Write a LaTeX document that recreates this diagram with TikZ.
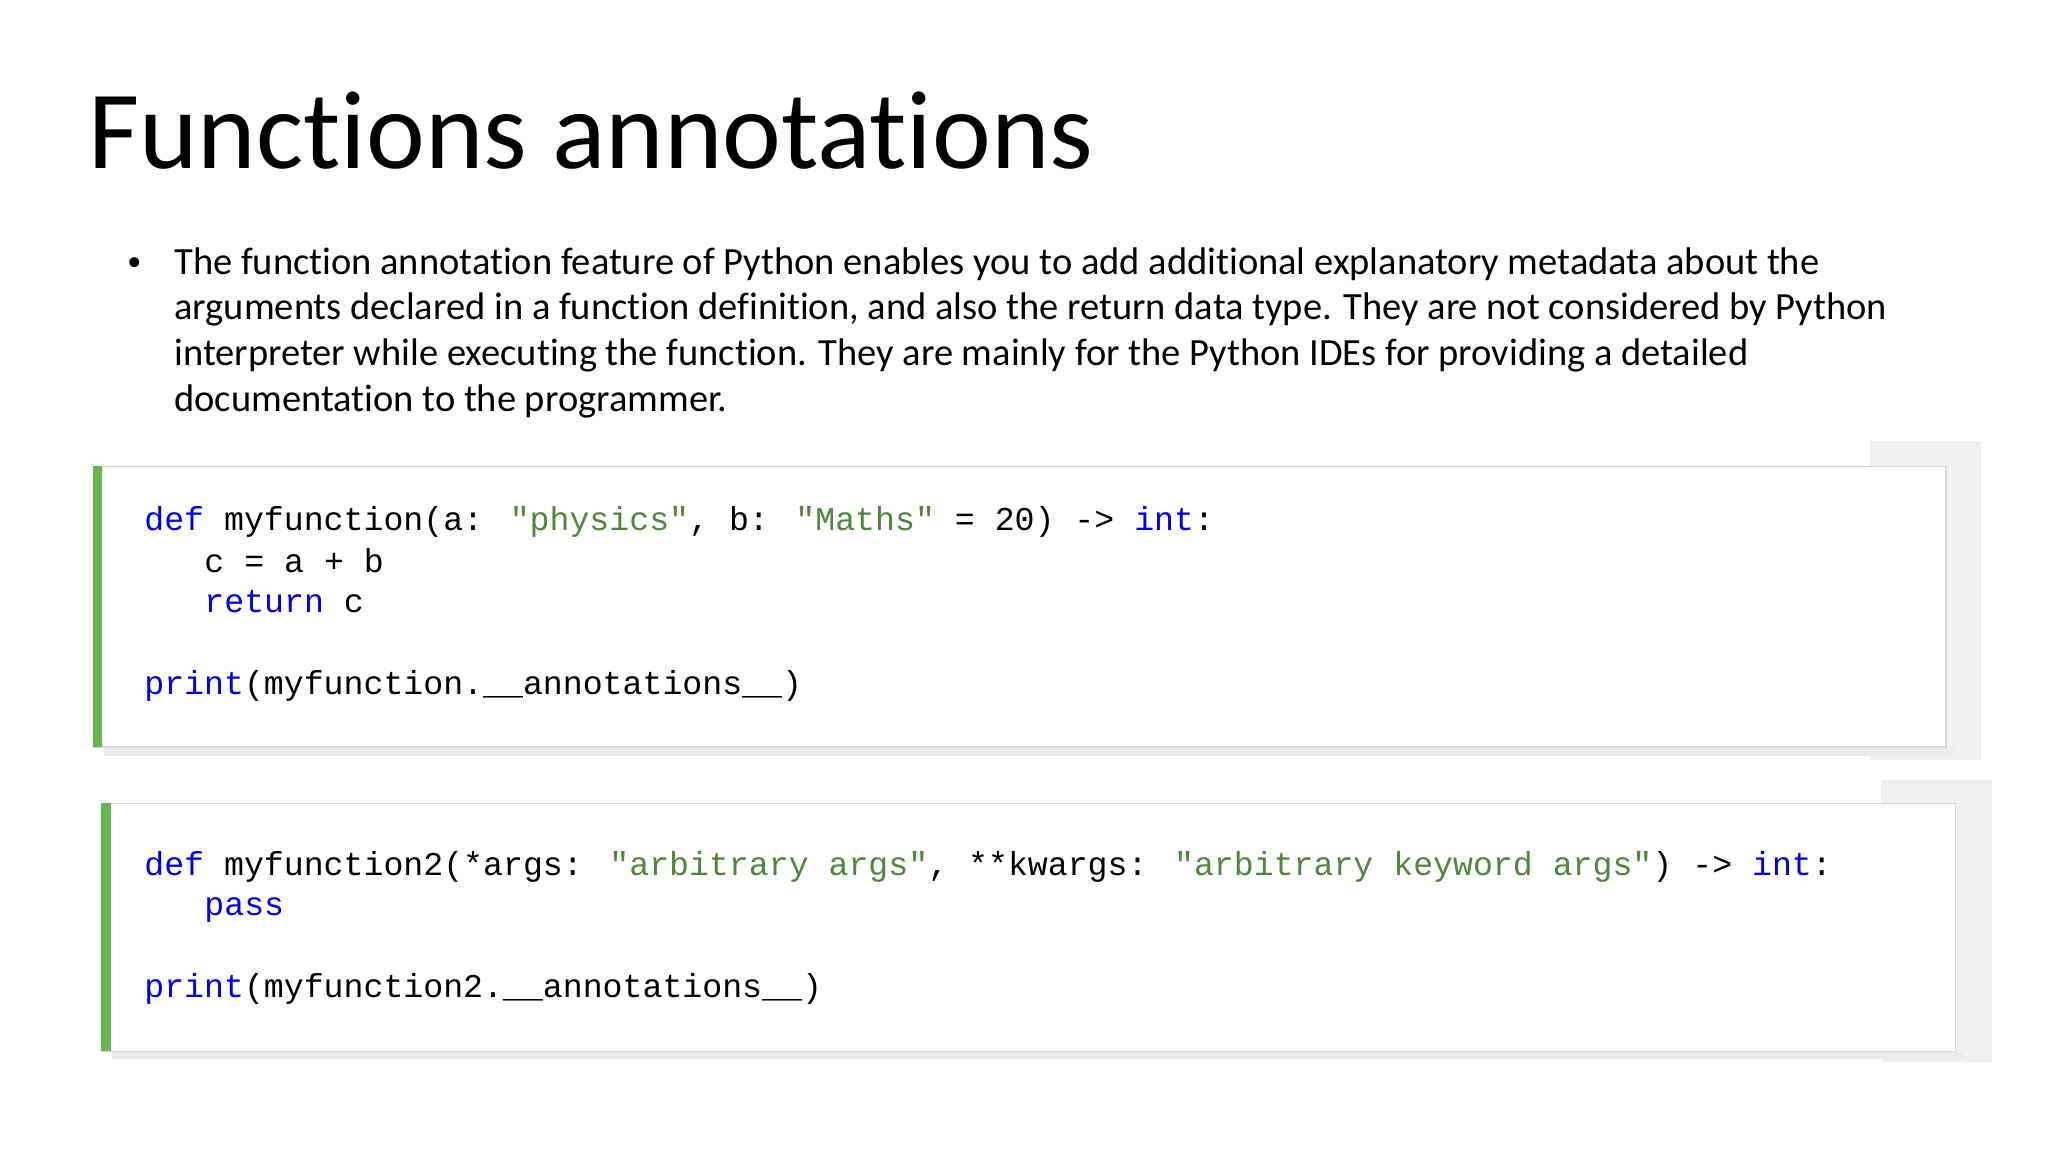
\documentclass[tikz,border=0pt]{standalone}
\usepackage{fontspec}
\setmainfont{Carlito}[Ligatures=NoCommon]
\newfontfamily\codefont{Liberation Mono}
\definecolor{kw}{RGB}{0,0,230}
\definecolor{str}{RGB}{80,135,60}
\definecolor{bar}{RGB}{104,182,80}
\definecolor{shadecol}{RGB}{240,240,240}
\definecolor{frame}{RGB}{215,220,200}
\begin{document}
\begin{tikzpicture}[x=0.013061cm,y=-0.013061cm,
  code/.style={anchor=base west,inner sep=0pt,font=\codefont\fontsize{9.45}{11}\selectfont},
  body/.style={anchor=base west,inner sep=0pt,font=\fontsize{10.95}{13}\selectfont}]
\useasboundingbox (0,0) rectangle (1568,882);
\node[anchor=base west,inner sep=0pt,font=\fontsize{31.7}{36}\selectfont] (title) at (67,129) {Functions annotations};
\node[body,font=\fontsize{8}{10}\selectfont] (b0) at (97,207) {\textbullet};
\node[body] (b1) at (133,210) {The function annotation feature of Python enables you to add additional explanatory metadata about the};
\node[body] (b2) at (133,245) {arguments declared in a function definition, and also the return data type. They are not considered by Python};
\node[body] (b3) at (133,280) {interpreter while executing the function. They are mainly for the Python IDEs for providing a detailed};
\node[body] (b4) at (133,315) {documentation to the programmer.};
% box 1
\fill[shadecol] (1432,338) rectangle (1517,582);
\fill[black!8] (80,572) rectangle (1496,579);
\draw[frame,fill=white] (72,357) rectangle (1490,572);
\fill[bar] (71,357) rectangle (78,572);
\node[code] (c1) at (110,406) {\textcolor{kw}{def} myfunction(a: \textcolor{str}{"physics"}, b: \textcolor{str}{"Maths"} = 20) -> \textcolor{kw}{int}:};
\node[code] (c2) at (156,438) {c = a + b};
\node[code] (c3) at (156,469) {\textcolor{kw}{return} c};
\node[code] (c4) at (110,532) {\textcolor{kw}{print}(myfunction.\_\_annotations\_\_)};
% box 2
\fill[shadecol] (1440,597) rectangle (1525,813);
\fill[black!8] (86,805) rectangle (1503,811);
\draw[frame,fill=white] (78,615) rectangle (1497,805);
\fill[bar] (77,615) rectangle (85,805);
\node[code] (d1) at (110,670) {\textcolor{kw}{def} myfunction2(*args: \textcolor{str}{"arbitrary args"}, **kwargs: \textcolor{str}{"arbitrary keyword args"}) -> \textcolor{kw}{int}:};
\node[code] (d2) at (156,701) {\textcolor{kw}{pass}};
\node[code] (d3) at (110,764) {\textcolor{kw}{print}(myfunction2.\_\_annotations\_\_)};
\end{tikzpicture}
\end{document}
